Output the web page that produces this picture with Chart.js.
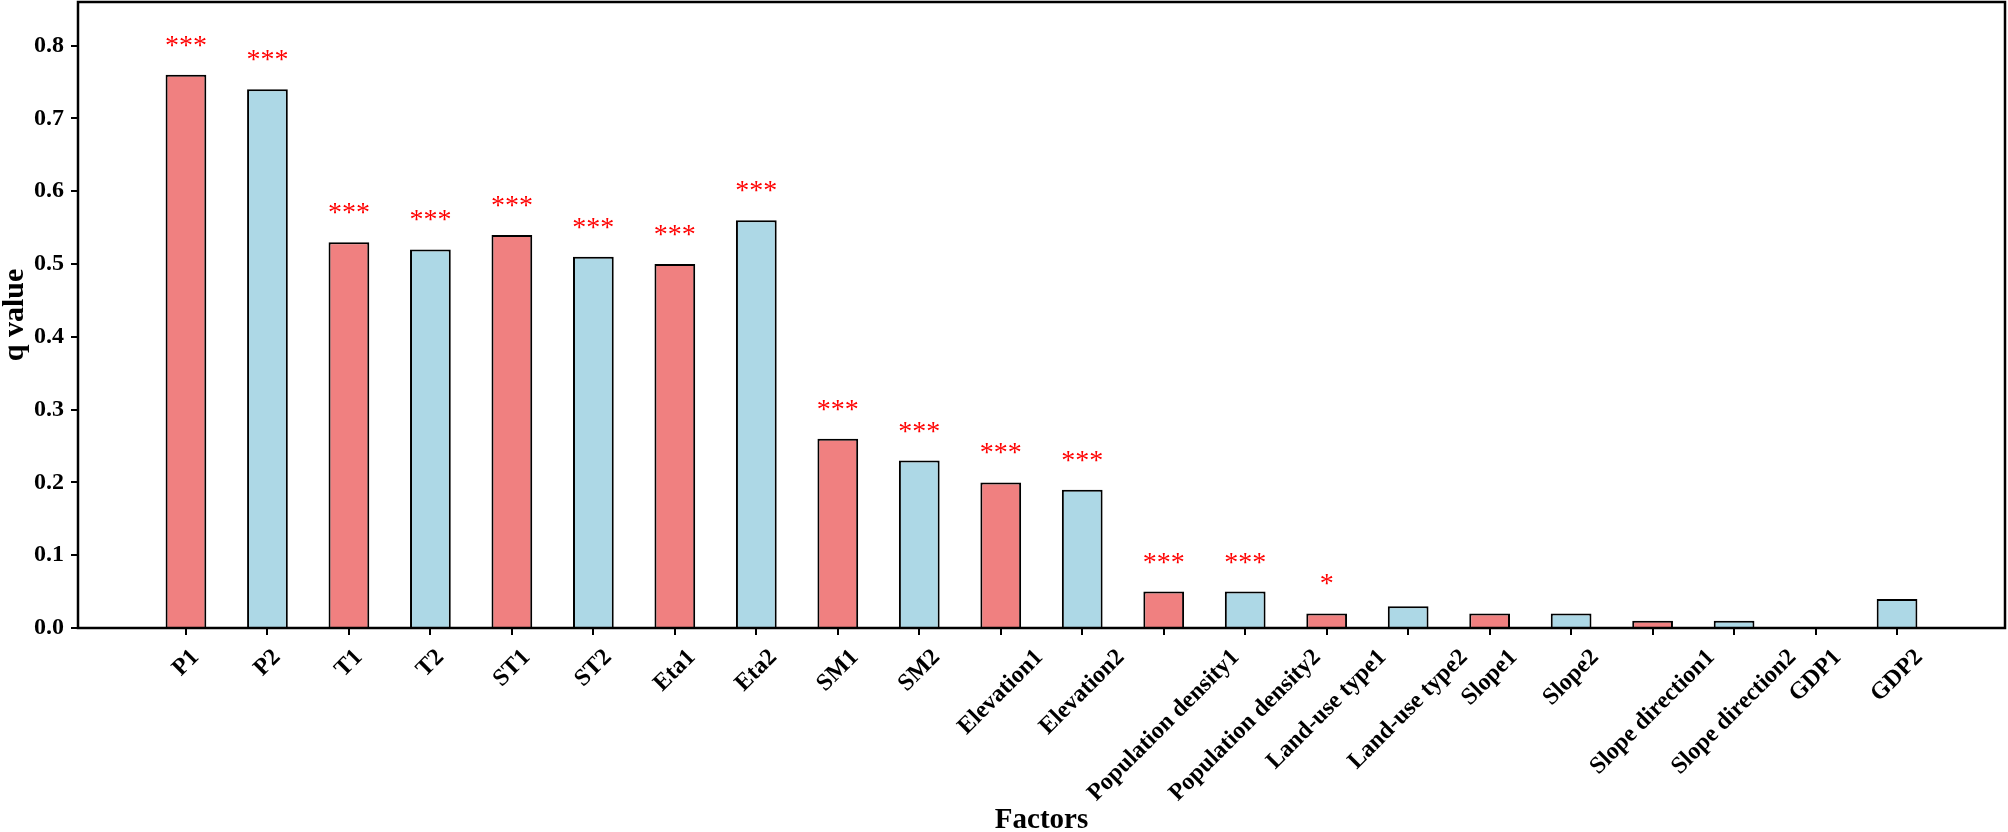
<!DOCTYPE html>
<html>
<head>
<meta charset="utf-8">
<script src="https://cdn.jsdelivr.net/npm/chart.js@4.4.1/dist/chart.umd.min.js"></script>
<style>
  html, body { margin: 0; padding: 0; background: #fff; }
  canvas { display: block; }
</style>
</head>
<body>
<canvas id="qChart" width="2008" height="832"></canvas>
<script>
// Factors and q values
const factors = ['P1', 'P2', 'T1', 'T2', 'ST1', 'ST2', 'Eta1', 'Eta2', 'SM1', 'SM2',
  'Elevation1', 'Elevation2', 'Population density1', 'Population density2',
  'Land-use type1', 'Land-use type2', 'Slope1', 'Slope2',
  'Slope direction1', 'Slope direction2', 'GDP1', 'GDP2'];
const qValues = [0.76, 0.74, 0.53, 0.52, 0.54, 0.51, 0.50, 0.56, 0.26, 0.23,
  0.20, 0.19, 0.05, 0.05, 0.02, 0.03, 0.02, 0.02, 0.01, 0.01, 0.00, 0.04];
// significance marks above the bars
const sigMarks = ['***', '***', '***', '***', '***', '***', '***', '***', '***', '***',
  '***', '***', '***', '***', '*', '', '', '', '', '', '', ''];
const yTicks = [0, 0.1, 0.2, 0.3, 0.4, 0.5, 0.6, 0.7, 0.8];

const SERIF = '"Liberation Serif", "Times New Roman", serif';
const RED = '#F08080';
const BLUE = '#ADD8E6';

// frame around the plot (all four spines)
const framePlugin = {
  id: 'frame',
  afterDatasetsDraw(chart) {
    const { ctx, chartArea: a } = chart;
    ctx.save();
    ctx.strokeStyle = '#000';
    ctx.lineWidth = 2.5;
    ctx.strokeRect(a.left, a.top, a.right - a.left, a.bottom - a.top);
    ctx.restore();
  }
};

// red asterisks above each bar
const starsPlugin = {
  id: 'stars',
  afterDatasetsDraw(chart) {
    const { ctx } = chart;
    const meta = chart.getDatasetMeta(0);
    ctx.save();
    ctx.fillStyle = '#FF0000';
    ctx.font = '28px ' + SERIF;
    ctx.textAlign = 'center';
    ctx.textBaseline = 'alphabetic';
    meta.data.forEach((bar, i) => {
      if (sigMarks[i]) ctx.fillText(sigMarks[i], bar.x, bar.y - 21);
    });
    ctx.restore();
  }
};

// rotated x labels, centred on the tick like matplotlib's rotation=45
const xLabelsPlugin = {
  id: 'xLabels',
  afterDraw(chart) {
    const { ctx } = chart;
    const xs = chart.scales.x;
    const fs = 24;
    ctx.save();
    ctx.fillStyle = '#000';
    ctx.font = 'bold ' + fs + 'px ' + SERIF;
    ctx.textAlign = 'center';
    ctx.textBaseline = 'middle';
    factors.forEach((name, i) => {
      const w = ctx.measureText(name).width;
      const boxH = (w + fs * 0.9) * Math.SQRT1_2;
      const x = xs.getPixelForValue(i);
      const y = xs.top + 18 + boxH / 2;
      ctx.save();
      ctx.translate(x, y);
      ctx.rotate(-Math.PI / 4);
      ctx.fillText(name, 0, 0);
      ctx.restore();
    });
    ctx.restore();
  }
};

new Chart(document.getElementById('qChart'), {
  type: 'bar',
  data: {
    datasets: [{
      data: factors.map((f, i) => ({ x: i, y: qValues[i] })),
      backgroundColor: ctx => (ctx.dataIndex % 2 ? BLUE : RED),
      borderColor: '#000',
      borderWidth: 2,
      categoryPercentage: 0.5,
      barPercentage: 1.0
    }]
  },
  options: {
    responsive: false,
    animation: false,
    devicePixelRatio: 1,
    layout: { padding: { left: 0, right: 3, top: 2, bottom: 0 } },
    plugins: {
      legend: { display: false },
      tooltip: { enabled: false }
    },
    scales: {
      x: {
        type: 'linear',
        min: -1.325,
        max: 22.325,
        offset: false,
        afterBuildTicks: axis => { axis.ticks = factors.map((f, i) => ({ value: i })); },
        afterFit: axis => {
          axis.height = 204;
          axis.paddingLeft = 0;
          axis.paddingRight = 0;
        },
        grid: { offset: false, drawOnChartArea: false, drawTicks: true, tickLength: 7, color: '#000', lineWidth: 2 },
        border: { display: false },
        ticks: { display: false },
        title: {
          display: true,
          text: 'Factors',
          color: '#000',
          padding: 0,
          font: { family: SERIF, size: 29, weight: 'bold', lineHeight: 0.8 }
        }
      },
      y: {
        min: 0,
        max: 0.86,
        afterBuildTicks: axis => { axis.ticks = yTicks.map(v => ({ value: v })); },
        afterFit: axis => {
          axis.width = 78;
          axis.paddingTop = 0;
          axis.paddingBottom = 0;
        },
        grid: { drawOnChartArea: false, drawTicks: true, tickLength: 7, color: '#000', lineWidth: 2 },
        border: { display: false },
        ticks: {
          padding: 7,
          color: '#000',
          font: { family: SERIF, size: 24, weight: 'bold' },
          callback: v => v.toFixed(1)
        },
        title: {
          display: true,
          text: 'q value',
          color: '#000',
          padding: 0,
          font: { family: SERIF, size: 30, weight: 'bold', lineHeight: 1.0 }
        }
      }
    }
  },
  plugins: [framePlugin, starsPlugin, xLabelsPlugin]
});
</script>
</body>
</html>
